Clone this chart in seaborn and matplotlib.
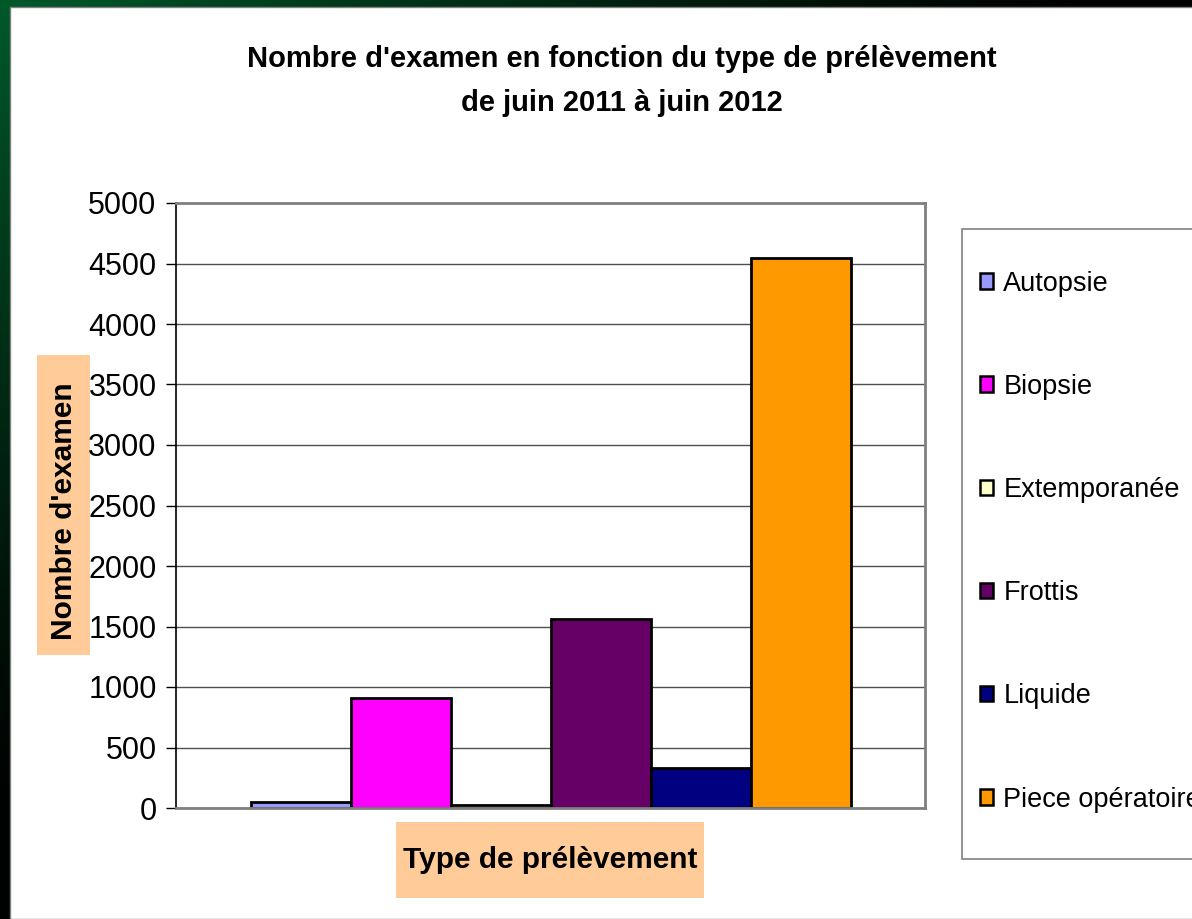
import numpy as np
import pandas as pd
import seaborn as sns
import matplotlib.pyplot as plt
from matplotlib.patches import Rectangle, Patch

# values
types = ["Autopsie", "Biopsie", "Extemporanée", "Frottis", "Liquide", "Piece opératoire"]
counts = [50, 910, 25, 1565, 330, 4545]
colors = ["#9999FF", "#FF00FF", "#FFFFCC", "#660066", "#000080", "#FF9900"]
yticks = list(range(0, 5001, 500))

df = pd.DataFrame({"type": types, "n": counts})
pal = dict(zip(types, colors))

sns.set_style("white")
plt.rcParams['font.family'] = ['Liberation Sans', 'DejaVu Sans']
plt.rcParams['text.color'] = 'black'
plt.rcParams['axes.labelcolor'] = 'black'
plt.rcParams['ytick.color'] = 'black'
plt.rcParams['ytick.labelcolor'] = 'black'

W, H = 1192, 919
fig = plt.figure(figsize=(W / 100, H / 100), dpi=100)

# dark green gradient background
bg = fig.add_axes([0, 0, 1, 1], zorder=-10)
xx, yy = np.meshgrid(np.linspace(0, 1, 300), np.linspace(0, 1, 230))
t = np.clip(xx * 1.1 + yy * 1.15, 0, 1)
g = (1 - t) ** 1.2
img = np.dstack([0 * g, 0.34 * g + 0.01, 0.16 * g + 0.005])
bg.imshow(img, aspect="auto", extent=[0, 1, 0, 1], origin="upper")
bg.set_xlim(0, 1)
bg.set_ylim(0, 1)
bg.axis("off")
bg.add_patch(Rectangle((10 / W, 0), 1, 1 - 7 / H, facecolor="white",
                       edgecolor="#808080", lw=1))

# orange boxes behind axis titles
bg.add_patch(Rectangle((396 / W, 1 - 898 / H), 308 / W, 76 / H,
                       facecolor="#FFCC99", edgecolor="none"))
bg.add_patch(Rectangle((37 / W, 1 - 655 / H), 53 / W, 300 / H,
                       facecolor="#FFCC99", edgecolor="none"))
# legend frame
bg.add_patch(Rectangle((962 / W, 1 - 859 / H), 0.3, 630 / H,
                       facecolor="white", edgecolor="#808080", lw=1.2))

ax = fig.add_axes([176 / W, 1 - 808 / H, 749 / W, 605 / H])
sns.barplot(data=df, x="type", y="n", hue="type", palette=pal, width=1.0,
            edgecolor="black", linewidth=2, saturation=1, legend=False, ax=ax)

ax.set_xlim(-1.245, 6.245)
ax.set_ylim(0, 5000)
ax.set_yticks(yticks)
ax.set_xticks([])
ax.tick_params(axis="y", labelsize=22, length=7, width=1, pad=7,
               left=True, color="black")
ax.yaxis.grid(True, color="#505050", lw=1)
ax.set_axisbelow(True)
for s in ["top", "right", "bottom"]:
    ax.spines[s].set_color("#808080")
    ax.spines[s].set_linewidth(2)
ax.spines["left"].set_color("black")
ax.spines["left"].set_linewidth(1.2)

ax.set_xlabel("Type de prélèvement", fontsize=21.5, fontweight="bold")
ax.xaxis.set_label_coords(0.5, -0.086)
ax.xaxis.label.set_va("center")
ax.set_ylabel("Nombre d'examen", fontsize=21.5, fontweight="bold")
ax.yaxis.set_label_coords(-0.150, 0.49)
ax.yaxis.label.set_va("center")

fig.text(622 / W, 1 - 81 / H,
         "Nombre d'examen en fonction du type de prélèvement\nde juin 2011 à juin 2012",
         ha="center", va="center", fontsize=21, fontweight="bold", linespacing=1.73)

handles = [Patch(facecolor=c, edgecolor="black", lw=1.8) for c in colors]
leg = fig.legend(handles, types, loc="upper left", bbox_to_anchor=(962 / W, 1 - 253 / H),
                 fontsize=19.5, frameon=False,
                 labelspacing=2.85, handlelength=0.5, handleheight=0.5,
                 handletextpad=0.38, borderpad=0.65, borderaxespad=0)

fig.savefig("out.png", dpi=100)
